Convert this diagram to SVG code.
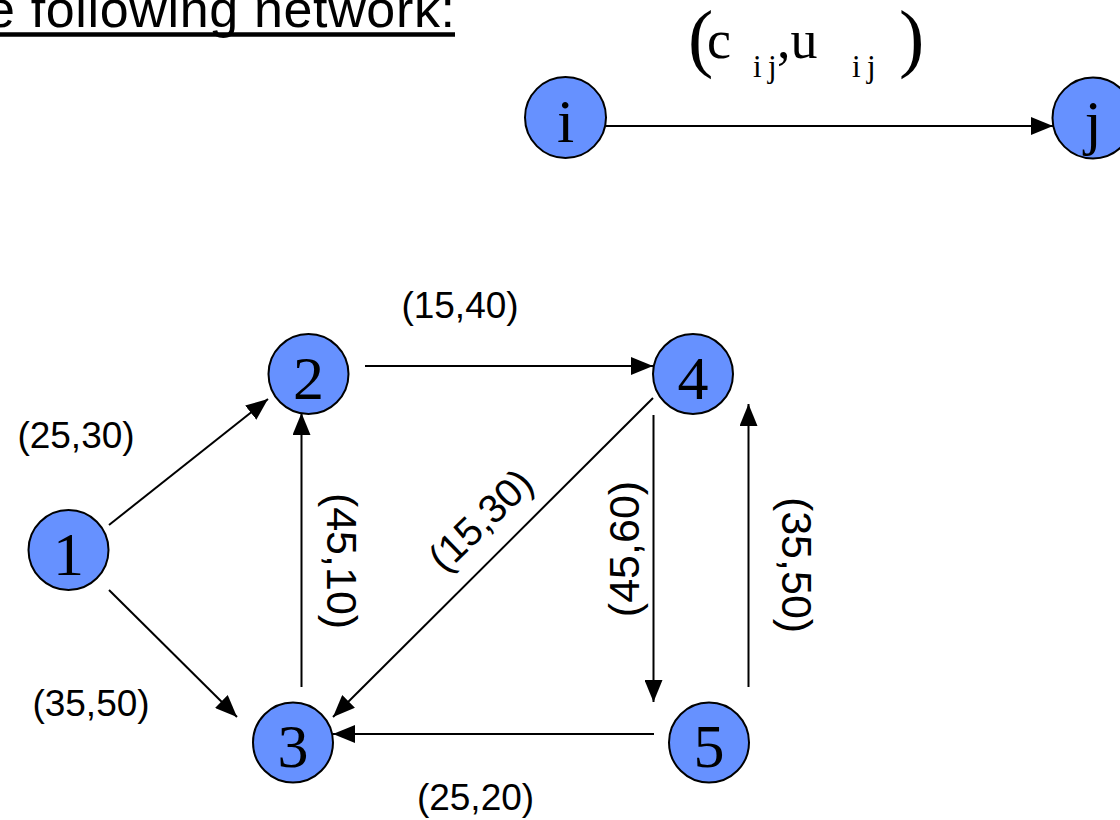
<svg xmlns="http://www.w3.org/2000/svg" width="1120" height="820" viewBox="0 0 1120 820">
  <style>
    .node circle { fill: #6691ff; stroke: #000; stroke-width: 2; }
    .node text { font-family: "Liberation Serif", "Times New Roman", serif; font-size: 62px; text-anchor: middle; fill: #000; }
    .edge { stroke: #000; stroke-width: 2; fill: none; marker-end: url(#arrow); }
    .lbl { font-family: "Liberation Sans", Arial, sans-serif; font-size: 37px; text-anchor: middle; fill: #000; }
    .vlbl { font-family: "Liberation Sans", Arial, sans-serif; font-size: 43px; text-anchor: middle; fill: #000; }
  </style>
  <defs>
    <marker id="arrow" markerUnits="userSpaceOnUse" markerWidth="22" markerHeight="18" refX="22" refY="9" orient="auto">
      <path d="M0,0 L22,9 L0,18 z" fill="#000"/>
    </marker>
  </defs>
  <rect width="1120" height="820" fill="#fff"/>

  <!-- title fragment -->
  <g id="title">
    <text x="-14" y="27" font-family="'Liberation Sans', Arial, sans-serif" font-size="52" textLength="469" lengthAdjust="spacing" fill="#000">e following network:</text>
    <line x1="-20" y1="34.5" x2="455" y2="34.5" stroke="#000" stroke-width="4.5"/>
  </g>

  <!-- legend label -->
  <g id="legend-label">
    <text font-family="'Liberation Serif', 'Times New Roman', serif" fill="#000">
      <tspan x="688" y="63" font-size="76">(</tspan>
      <tspan x="707" y="58" font-size="54">c</tspan>
      <tspan x="753 760 768" y="77" font-size="31">i j</tspan>
      <tspan x="777" y="58" font-size="54">,u</tspan>
      <tspan x="852 859 867" y="77" font-size="31">i j</tspan>
      <tspan x="899" y="63" font-size="76">)</tspan>
    </text>
  </g>

  <!-- connectors -->
  <g id="connectors">
    <line class="edge" x1="606" y1="126" x2="1053" y2="126"/>
    <line class="edge" x1="109" y1="525" x2="268" y2="399"/>
    <line class="edge" x1="109" y1="590" x2="237" y2="717"/>
    <line class="edge" x1="301.5" y1="687" x2="301.5" y2="413"/>
    <line class="edge" x1="365" y1="366" x2="653" y2="366"/>
    <line class="edge" x1="653" y1="398" x2="333" y2="717"/>
    <line class="edge" x1="653.5" y1="415" x2="653.5" y2="702"/>
    <line class="edge" x1="748.5" y1="687" x2="748.5" y2="404"/>
    <line class="edge" x1="654" y1="734" x2="333" y2="734"/>
  </g>

  <!-- edge labels -->
  <g id="edge-labels">
    <text class="lbl" x="460" y="318">(15,40)</text>
    <text class="lbl" x="76" y="448">(25,30)</text>
    <text class="lbl" x="91" y="716">(35,50)</text>
    <text class="lbl" x="475.5" y="810">(25,20)</text>
    <text class="vlbl" transform="translate(327,561) rotate(90)">(45,10)</text>
    <text class="vlbl" transform="translate(639,549) rotate(-90)">(45,60)</text>
    <text class="vlbl" transform="translate(782,565) rotate(90)">(35,50)</text>
    <text class="lbl" style="font-size:40px" transform="translate(490,530) rotate(-44)">(15,30)</text>
  </g>

  <!-- nodes -->
  <g id="node-i" class="node"><circle cx="565.5" cy="117.5" r="40.5"/><text x="565.5" y="142">i</text></g>
  <g id="node-j" class="node"><circle cx="1093" cy="118" r="40.5"/><text x="1093" y="142.5">j</text></g>
  <g id="node-1" class="node"><circle cx="68.5" cy="550" r="40"/><text x="68.5" y="574.5">1</text></g>
  <g id="node-2" class="node"><circle cx="308.5" cy="374" r="40"/><text x="308.5" y="398.5">2</text></g>
  <g id="node-3" class="node"><circle cx="293" cy="742.5" r="40"/><text x="293" y="767">3</text></g>
  <g id="node-4" class="node"><circle cx="693" cy="374" r="40"/><text x="693" y="398.5">4</text></g>
  <g id="node-5" class="node"><circle cx="709" cy="742.5" r="40"/><text x="709" y="767">5</text></g>
</svg>
